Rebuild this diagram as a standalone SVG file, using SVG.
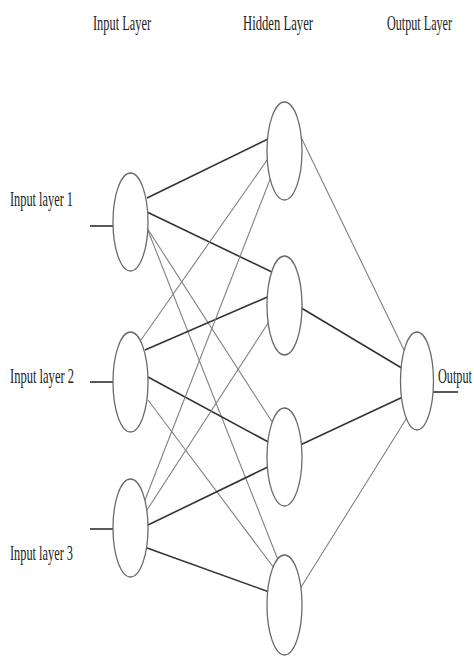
<svg xmlns="http://www.w3.org/2000/svg" width="474" height="657" viewBox="0 0 474 657">
<style>
.t{font-family:"Liberation Serif","Times New Roman",serif;font-size:21px;fill:#222}
.thick{stroke:#333;stroke-width:1.6;fill:none}
.thin{stroke:#808080;stroke-width:1.1;fill:none}
.stub{stroke:#222;stroke-width:1.5}
.node{fill:#fff;stroke:#6a6a6a;stroke-width:1.3}
</style>
<rect width="474" height="657" fill="#fff"/>
<g id="headers">
<text class="t" transform="translate(93,30) scale(0.59,1)" textLength="98.3" lengthAdjust="spacingAndGlyphs">Input Layer</text>
<text class="t" transform="translate(243,30) scale(0.59,1)" textLength="118.6" lengthAdjust="spacingAndGlyphs">Hidden Layer</text>
<text class="t" transform="translate(387,30) scale(0.59,1)" textLength="110.2" lengthAdjust="spacingAndGlyphs">Output Layer</text>
</g>
<g id="connectors">
<line class="thick" x1="147" y1="198" x2="272" y2="137"/>
<line class="thick" x1="147" y1="212" x2="276" y2="274"/>
<line class="thin" x1="147" y1="228" x2="276" y2="428"/>
<line class="thin" x1="147" y1="228" x2="280" y2="565"/>
<line class="thin" x1="141" y1="340" x2="272" y2="153"/>
<line class="thick" x1="145" y1="350" x2="272" y2="295"/>
<line class="thick" x1="148" y1="377" x2="272" y2="444"/>
<line class="thin" x1="148" y1="400" x2="277" y2="572"/>
<line class="thin" x1="145" y1="500" x2="271" y2="177"/>
<line class="thin" x1="147" y1="510" x2="272" y2="317"/>
<line class="thick" x1="148" y1="525" x2="272" y2="465"/>
<line class="thick" x1="147" y1="548" x2="272" y2="593"/>
<line class="thin" x1="299" y1="133" x2="405" y2="352"/>
<line class="thick" x1="298" y1="306" x2="405" y2="370"/>
<line class="thick" x1="298" y1="446" x2="405" y2="396"/>
<line class="thin" x1="298" y1="592" x2="408" y2="416"/>
<line class="stub" x1="90" y1="226" x2="113" y2="226"/>
<line class="stub" x1="90" y1="382" x2="113" y2="382"/>
<line class="stub" x1="90" y1="529" x2="113" y2="529"/>
<line class="stub" x1="433" y1="392" x2="458" y2="392"/>
</g>
<g id="input1"><ellipse class="node" cx="130.5" cy="222" rx="17.5" ry="49"/><text class="t" transform="translate(10,206) scale(0.59,1)" textLength="106.8" lengthAdjust="spacingAndGlyphs">Input layer 1</text></g>
<g id="input2"><ellipse class="node" cx="130.5" cy="382" rx="17.5" ry="50"/><text class="t" transform="translate(10,383) scale(0.59,1)" textLength="108.5" lengthAdjust="spacingAndGlyphs">Input layer 2</text></g>
<g id="input3"><ellipse class="node" cx="130.5" cy="528" rx="17.5" ry="49"/><text class="t" transform="translate(10,560) scale(0.59,1)" textLength="106.8" lengthAdjust="spacingAndGlyphs">Input layer 3</text></g>
<g id="hidden1"><ellipse class="node" cx="284.5" cy="151" rx="17.5" ry="49"/></g>
<g id="hidden2"><ellipse class="node" cx="284.5" cy="305.5" rx="17.5" ry="49.5"/></g>
<g id="hidden3"><ellipse class="node" cx="284.5" cy="457" rx="17.5" ry="49"/></g>
<g id="hidden4"><ellipse class="node" cx="284.5" cy="605" rx="17.5" ry="50"/></g>
<g id="output"><ellipse class="node" cx="417" cy="381" rx="16.5" ry="49"/><text class="t" transform="translate(438,383) scale(0.59,1)" textLength="57.6" lengthAdjust="spacingAndGlyphs">Output</text></g>
</svg>
